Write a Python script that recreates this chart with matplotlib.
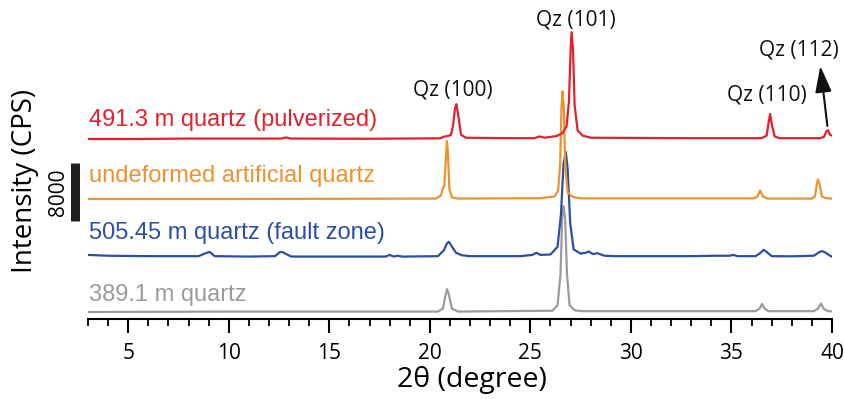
import matplotlib
matplotlib.use("Agg")
import matplotlib.pyplot as plt

# ---------------- data (counts above each trace's baseline) ----------------
red_x = [3.0, 5.0, 8.0, 12.6, 12.85, 13.1, 17.0, 20.5, 20.75, 20.9, 21.05, 21.15, 21.25, 21.32, 21.4, 21.55, 21.8,
         24.0, 25.2, 25.45, 25.7, 26.3, 26.6, 26.8, 26.92, 27.0, 27.05, 27.12, 27.2, 27.35, 27.6, 28.0, 33.0,
         36.5, 36.75, 36.85, 36.92, 37.0, 37.15, 37.4, 39.4, 39.6, 39.72, 39.8, 39.9, 40.0]
red_y = [0, 0, 60, 60, 210, 60, 35, 95, 350, 410, 585, 1750, 4200, 4800, 3500, 585, 175,
         115, 115, 350, 175, 410, 820, 1750, 5250, 12300, 14750, 12300, 4700, 1170, 470, 175, 115,
         115, 470, 2340, 3450, 2100, 350, 115, 115, 290, 1050, 1230, 585, 470]

orange_x = [3, 10, 20.3, 20.55, 20.65, 20.72, 20.8, 20.85, 20.9, 20.97, 21.1, 21.4, 25.5, 26.2, 26.38, 26.48,
            26.55, 26.6, 26.66, 26.73, 26.85, 27.1, 27.5, 36.1, 36.3, 36.43, 36.56, 36.8, 39.0, 39.15, 39.25,
            39.3, 39.38, 39.5, 39.7, 40]
orange_y = [0, 0, 60, 470, 1520, 1750, 5850, 8000, 6450, 1400, 235, 60, 115, 350, 1170, 4700,
            12900, 14850, 12900, 4700, 935, 290, 95, 95, 350, 1170, 350, 60, 60, 350, 2100,
            2700, 2100, 350, 115, 60]

blue_x = [3, 4, 6, 8.5, 8.9, 9.05, 9.3, 11, 12.3, 12.55, 12.7, 13.1, 15, 17.8, 18.0, 18.2, 18.4, 18.6, 18.8,
          20.4, 20.7, 20.85, 20.95, 21.05, 21.3, 21.6, 22.0, 24.5, 25.1, 25.3, 25.5, 26.0, 26.35, 26.52, 26.65,
          26.76, 26.85, 26.98, 27.15, 27.5, 27.75, 27.9, 28.1, 28.35, 28.5, 28.7, 29.2, 33.0, 34.2, 34.9, 35.1,
          35.3, 36.2, 36.45, 36.6, 36.75, 37.0, 38.0, 39.1, 39.35, 39.5, 39.65, 39.9, 40]
blue_y = [290, 175, 115, 115, 585, 700, 115, 60, 115, 700, 645, 60, 60, 60, 290, 60, 175, 60, 60,
          115, 935, 1870, 2100, 1640, 585, 235, 115, 115, 290, 585, 290, 350, 1400, 5850, 12900,
          14500, 12300, 4700, 1050, 470, 585, 760, 410, 525, 350, 175, 115, 115, 175, 175, 290,
          115, 115, 585, 995, 700, 115, 95, 175, 645, 820, 645, 175, 60]

gray_x = [3, 10, 13, 20.4, 20.65, 20.78, 20.86, 20.95, 21.1, 21.4, 26.1, 26.35, 26.5, 26.58, 26.65, 26.73,
          26.82, 26.95, 27.2, 27.6, 36.2, 36.4, 36.52, 36.65, 36.85, 39.1, 39.3, 39.45, 39.58, 39.8, 40]
gray_y = [0, 60, 60, 60, 470, 2340, 3160, 2340, 470, 60, 175, 935, 5250, 12900, 14600, 12900,
          5250, 935, 235, 115, 115, 470, 1110, 470, 115, 115, 470, 1170, 470, 115, 95]

series_labels = ["491.3 m quartz (pulverized)", "undeformed artificial quartz",
                 "505.45 m quartz (fault zone)", "389.1 m quartz"]
peak_labels = ["Qz (100)", "Qz (101)", "Qz (110)", "Qz (112)"]
x_ticks = [5, 10, 15, 20, 25, 30, 35, 40]
scale_bar_counts = 8000

# ---------------- layout / style ----------------
CPP = 138  # counts per pixel
colors = ["#e3202b", "#ec922f", "#2b4fa2", "#9b9b9b"]
offsets = [180 * CPP, 120 * CPP, 62 * CPP, 7 * CPP]
label_y = [199 * CPP, 143 * CPP, 86 * CPP, 24 * CPP]
zorders = [5, 4, 3, 2]

fig = plt.figure(figsize=(8.44, 3.99), dpi=100)
ax = fig.add_axes([88 / 844, 80 / 399, 744 / 844, 319 / 399])

data = [(red_x, red_y), (orange_x, orange_y), (blue_x, blue_y), (gray_x, gray_y)]
for (xs, ys), c, off, z in zip(data, colors, offsets, zorders):
    ax.plot(xs, [v + off for v in ys], color=c, lw=1.6, solid_joinstyle="round", zorder=z)

ax.set_xlim(3, 40)
ax.set_ylim(0, 319 * CPP)

for s in ["top", "right", "left"]:
    ax.spines[s].set_visible(False)
ax.spines["bottom"].set_linewidth(1.5)
ax.set_yticks([])
ax.set_xticks(x_ticks)
ax.set_xticks(range(3, 41), minor=True)
ax.tick_params(axis="x", which="major", length=10, width=1.5, direction="out", pad=7,
               labelsize=15)
ax.tick_params(axis="x", which="minor", length=5, width=1.3, direction="out")
for lab in ax.get_xticklabels():
    lab.set_family("Open Sans")

ax.set_xlabel("2θ (degree)", fontsize=20.5, family="Open Sans")
ax.xaxis.set_label_coords((472 - 88) / 744, (319 - 366) / 319)

for lab, c, y in zip(series_labels, colors, label_y):
    ax.text(3.05, y, lab, color=c, fontsize=17, family="Liberation Sans", va="center", ha="left")

# peak annotations
ann_pos = [(21.13, 229 * CPP), (27.28, 299 * CPP), (36.78, 224 * CPP), (38.35, 269 * CPP)]
for lab, (x, y) in zip(peak_labels, ann_pos):
    ax.text(x, y, lab, fontsize=15, family="Open Sans", ha="center", va="center", color="#111111")
ax.annotate("", xy=(39.42, 253 * CPP), xytext=(39.77, 193 * CPP),
            arrowprops=dict(arrowstyle="-|>,head_length=1.6,head_width=0.5", color="#111111", lw=1.5,
                            shrinkA=0, shrinkB=0))

# scale bar
bar_bottom = (319 - 221) * CPP
ax.plot([2.33, 2.33], [bar_bottom, bar_bottom + scale_bar_counts], color="#231f20", lw=6.5,
        solid_capstyle="butt", clip_on=False)
ax.text(1.55, bar_bottom + scale_bar_counts / 2, str(scale_bar_counts), rotation=90, fontsize=15,
        family="Open Sans", ha="center", va="center")

fig.text(25 / 844, 1 - 181 / 399, "Intensity (CPS)", rotation=90, fontsize=20, family="Open Sans",
         ha="center", va="center")

fig.savefig("out.png", dpi=100)
